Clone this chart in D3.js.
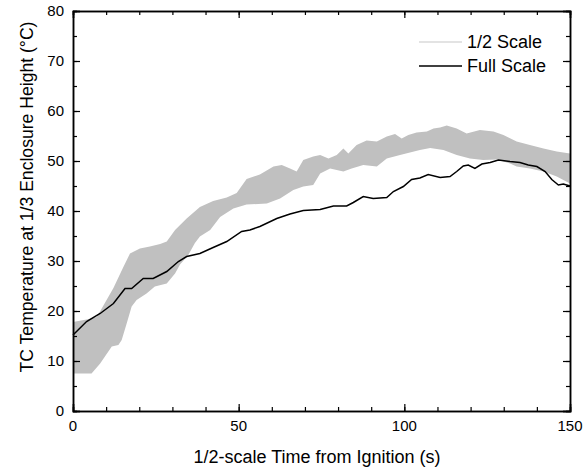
<!DOCTYPE html>
<html lang="en">
<head>
<meta charset="UTF-8">
<title>TC Temperature</title>
<script src="https://d3js.org/d3.v7.min.js"></script>
<style>
  body { margin: 0; background: #fff; }
  text { font-family: "Liberation Sans", Arial, sans-serif; fill: #000; }
</style>
</head>
<body>
<script>
  // 1/2 scale band (upper / lower edge)
  const bandUpperT = [0, 4.1, 7.2, 9.1, 12.2, 15.2, 17.2, 20.2, 23.2, 26.3, 28.3, 30.8, 34.3, 38.3, 42.3, 46.4, 49.4, 52.4, 56.4, 60.5, 63, 65.5, 67.5, 69.5, 72.5, 74.6, 77.1, 79.6, 81.6, 83.1, 85.6, 88.6, 91.7, 94.7, 97.2, 99.2, 101.2, 103.7, 106.8, 108.8, 110.8, 112.8, 115.8, 118.8, 122.8, 126.9, 129.9, 133.9, 137.9, 142, 146, 150];
  const bandUpper  = [17.8, 18.3, 18.8, 21, 24.6, 28.8, 31.5, 32.5, 32.9, 33.4, 33.9, 36.2, 38.5, 40.8, 42, 42.7, 43.6, 46.4, 47.3, 48.9, 49.2, 48.5, 47.9, 50.2, 50.9, 51.2, 50.5, 51.2, 52.5, 51.5, 53.2, 54.1, 53.9, 54.9, 55.4, 54.5, 55.2, 55.7, 55.9, 56.5, 56.7, 57.1, 56.5, 55.5, 56.2, 55.9, 55.2, 53.9, 53.2, 52.5, 51.9, 51.5];
  const bandLowerT = [0, 5.6, 8.2, 11.7, 13.7, 14.7, 16.2, 17.7, 19.2, 22.2, 24.7, 28.3, 30.8, 32.3, 34.8, 36.8, 38.3, 41.4, 44.4, 48.4, 52.4, 58.5, 62.5, 66.5, 69.5, 72.5, 74.6, 77.6, 81.6, 84.1, 87.6, 91.7, 94.7, 98.7, 101.7, 104.7, 107.8, 111.8, 115.8, 119.8, 123.8, 127.9, 131.9, 133.9, 137.9, 142, 146, 150];
  const bandLower  = [7.5, 7.5, 9.5, 12.9, 13.2, 14.2, 17.5, 20.9, 22.2, 23.5, 24.9, 25.5, 27.5, 29.3, 31.2, 33.6, 34.9, 36.2, 38.8, 40.5, 41.3, 41.5, 42.5, 44.2, 44.9, 45.2, 47.5, 48.5, 47.9, 48.5, 49.2, 48.9, 50.5, 51.2, 51.7, 52.2, 52.6, 52.2, 51.2, 50.5, 50.2, 50.3, 49.5, 48.9, 48.5, 47.9, 46.9, 45.5];

  // full scale line
  const fullT = [0, 4.1, 8.2, 12.2, 15.7, 17.7, 21.2, 24.2, 28.3, 31.8, 34.3, 38.3, 42.3, 46.4, 50.9, 53.4, 56.4, 61.5, 65.5, 69.5, 74.6, 78.6, 82.6, 84.6, 87.6, 90.6, 94.7, 96.7, 99.7, 102.2, 104.7, 107.2, 110.8, 113.8, 115.8, 117.8, 119.3, 121.3, 123.4, 125.9, 128.4, 131.9, 134.9, 137.4, 140, 142.5, 144.5, 146.5, 148, 150];
  const fullV = [15.2, 17.9, 19.5, 21.5, 24.5, 24.5, 26.5, 26.5, 27.9, 29.9, 30.9, 31.5, 32.7, 33.9, 35.9, 36.2, 36.9, 38.5, 39.4, 40.1, 40.3, 41, 41, 41.7, 42.9, 42.5, 42.7, 43.9, 44.9, 46.3, 46.6, 47.3, 46.7, 46.9, 47.9, 49, 49.2, 48.5, 49.4, 49.7, 50.2, 49.9, 49.7, 49.2, 48.9, 47.9, 46.3, 45.2, 45.4, 45];

  const xTicks = [0, 50, 100, 150];
  const xMinor = d3.range(0, 151, 10);
  const yTicks = [0, 10, 20, 30, 40, 50, 60, 70, 80];
  const yMinor = d3.range(0, 81, 5);
  const legendNames = ["1/2 Scale", "Full Scale"];

  const width = 588, height = 470;
  const margin = {left: 73, right: 18, top: 11, bottom: 59};

  const svg = d3.select("body").append("svg")
      .attr("width", width)
      .attr("height", height);

  const x = d3.scaleLinear().domain([0, 150]).range([margin.left, width - margin.right]);
  const y = d3.scaleLinear().domain([0, 80]).range([height - margin.bottom, margin.top]);

  // band polygon: upper edge forward, lower edge back
  const bandPts = bandUpperT.map((t, i) => [t, bandUpper[i]])
      .concat(bandLowerT.map((t, i) => [t, bandLower[i]]).reverse());
  const line = d3.line().x(d => x(d[0])).y(d => y(d[1]));

  svg.append("path")
      .attr("d", line(bandPts) + "Z")
      .attr("fill", "#c0c0c0")
      .attr("stroke", "none");

  svg.append("path")
      .attr("d", line(fullT.map((t, i) => [t, fullV[i]])))
      .attr("fill", "none")
      .attr("stroke", "#000")
      .attr("stroke-width", 1.5);

  // axes, ticks pointing inward
  function ticksOnly(axis, vals, size) {
    return axis.tickValues(vals).tickSize(size).tickFormat("");
  }
  const gB = svg.append("g").attr("transform", `translate(0,${y(0)})`);
  gB.call(ticksOnly(d3.axisBottom(x), xMinor, -4));
  gB.append("g").call(ticksOnly(d3.axisBottom(x), xTicks, -7));
  const gT = svg.append("g").attr("transform", `translate(0,${y(80)})`);
  gT.call(ticksOnly(d3.axisTop(x), xMinor, -4));
  gT.append("g").call(ticksOnly(d3.axisTop(x), xTicks, -7));
  const gL = svg.append("g").attr("transform", `translate(${x(0)},0)`);
  gL.call(ticksOnly(d3.axisLeft(y), yMinor, -4));
  gL.append("g").call(ticksOnly(d3.axisLeft(y), yTicks, -7));
  const gR = svg.append("g").attr("transform", `translate(${x(150)},0)`);
  gR.call(ticksOnly(d3.axisRight(y), yMinor, -4));
  gR.append("g").call(ticksOnly(d3.axisRight(y), yTicks, -7));
  svg.selectAll(".domain").attr("stroke", "#000").attr("stroke-width", 1.5);
  svg.selectAll(".tick line").attr("stroke", "#000").attr("stroke-width", 1.2);

  // tick labels
  svg.append("g").selectAll("text").data(xTicks).join("text")
      .attr("x", d => x(d)).attr("y", y(0) + 20)
      .attr("text-anchor", "middle").attr("font-size", 15).text(d => d);
  svg.append("g").selectAll("text").data(yTicks).join("text")
      .attr("x", x(0) - 9).attr("y", d => y(d) + 5)
      .attr("text-anchor", "end").attr("font-size", 15).text(d => d);

  // axis titles
  svg.append("text")
      .attr("x", 317).attr("y", 463)
      .attr("text-anchor", "middle").attr("font-size", 18)
      .text("1/2-scale Time from Ignition (s)");
  svg.append("text")
      .attr("transform", "translate(33,197) rotate(-90)")
      .attr("text-anchor", "middle").attr("font-size", 17.6)
      .text("TC Temperature at 1/3 Enclosure Height (°C)");

  // legend
  const legend = svg.append("g").selectAll("g").data(legendNames).join("g")
      .attr("transform", (d, i) => `translate(419,${42 + i * 24})`);
  legend.append("line")
      .attr("x1", 0).attr("x2", 43)
      .attr("stroke", (d, i) => i === 0 ? "#c8c8c8" : "#000")
      .attr("stroke-width", (d, i) => i === 0 ? 1.2 : 1.5);
  legend.append("text")
      .attr("x", 48).attr("y", 6).attr("font-size", 18)
      .text(d => d);
</script>
</body>
</html>
